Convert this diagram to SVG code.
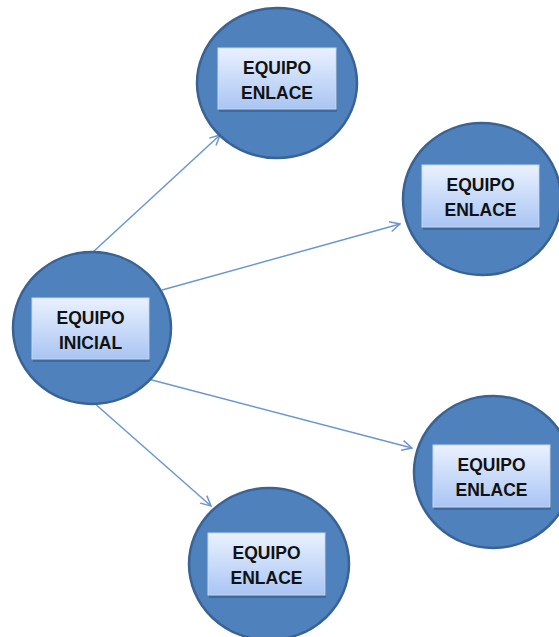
<svg xmlns="http://www.w3.org/2000/svg" width="559" height="637" viewBox="0 0 559 637">
<style>
.c{fill:#4f81bd;stroke:#3a6395;stroke-width:2.5}
.b{fill:url(#g);stroke:#c5d7f2;stroke-width:1}
.s{fill:#2c4d78;opacity:0.45}
.t{font-family:"Liberation Sans",Arial,sans-serif;font-weight:bold;font-size:17.5px;fill:#111;text-anchor:middle}
.a{stroke:#6b96d0;stroke-width:1.5;fill:none;marker-end:url(#m)}
</style>
<defs>
<linearGradient id="g" x1="0" y1="0" x2="0" y2="1">
<stop offset="0" stop-color="#eaf1ff"/>
<stop offset="1" stop-color="#a9c5f3"/>
</linearGradient>
<marker id="m" viewBox="0 0 12 12" refX="11" refY="6" markerWidth="12" markerHeight="12" markerUnits="userSpaceOnUse" orient="auto">
<path d="M1,1 L11,6 L1,11" fill="none" stroke="#6b96d0" stroke-width="1.5"/>
</marker>
</defs>
<rect width="559" height="637" fill="#fff"/>
<g id="connectors">
<line class="a" x1="93" y1="252" x2="220" y2="135"/>
<line class="a" x1="162" y1="290" x2="400" y2="224"/>
<line class="a" x1="148" y1="379" x2="412" y2="448"/>
<line class="a" x1="93" y1="402" x2="211" y2="506"/>
</g>
<g id="inicial">
<ellipse class="c" cx="92" cy="328" rx="79" ry="76"/>
<rect class="s" x="33" y="301" width="117" height="61"/>
<rect class="b" x="32" y="298" width="117" height="61"/>
<text class="t" x="90.5" y="323.5">EQUIPO</text>
<text class="t" x="90.5" y="348.5">INICIAL</text>
</g>
<g id="enlace1">
<ellipse class="c" cx="277" cy="83" rx="80" ry="75"/>
<rect class="s" x="219" y="51" width="118" height="61"/>
<rect class="b" x="218" y="48" width="118" height="61"/>
<text class="t" x="277" y="73.5">EQUIPO</text>
<text class="t" x="277" y="98.5">ENLACE</text>
</g>
<g id="enlace2">
<ellipse class="c" cx="482" cy="199" rx="79" ry="76"/>
<rect class="s" x="423" y="168" width="117" height="62"/>
<rect class="b" x="422" y="165" width="117" height="62"/>
<text class="t" x="480.5" y="190.5">EQUIPO</text>
<text class="t" x="480.5" y="215.5">ENLACE</text>
</g>
<g id="enlace3">
<ellipse class="c" cx="493" cy="472" rx="79" ry="76"/>
<rect class="s" x="434" y="448" width="117" height="62"/>
<rect class="b" x="433" y="445" width="117" height="62"/>
<text class="t" x="491.5" y="470.5">EQUIPO</text>
<text class="t" x="491.5" y="495.5">ENLACE</text>
</g>
<g id="enlace4">
<ellipse class="c" cx="269" cy="564" rx="80" ry="76"/>
<rect class="s" x="209" y="536" width="117" height="62"/>
<rect class="b" x="208" y="533" width="117" height="62"/>
<text class="t" x="266.5" y="558.5">EQUIPO</text>
<text class="t" x="266.5" y="583.5">ENLACE</text>
</g>
</svg>
